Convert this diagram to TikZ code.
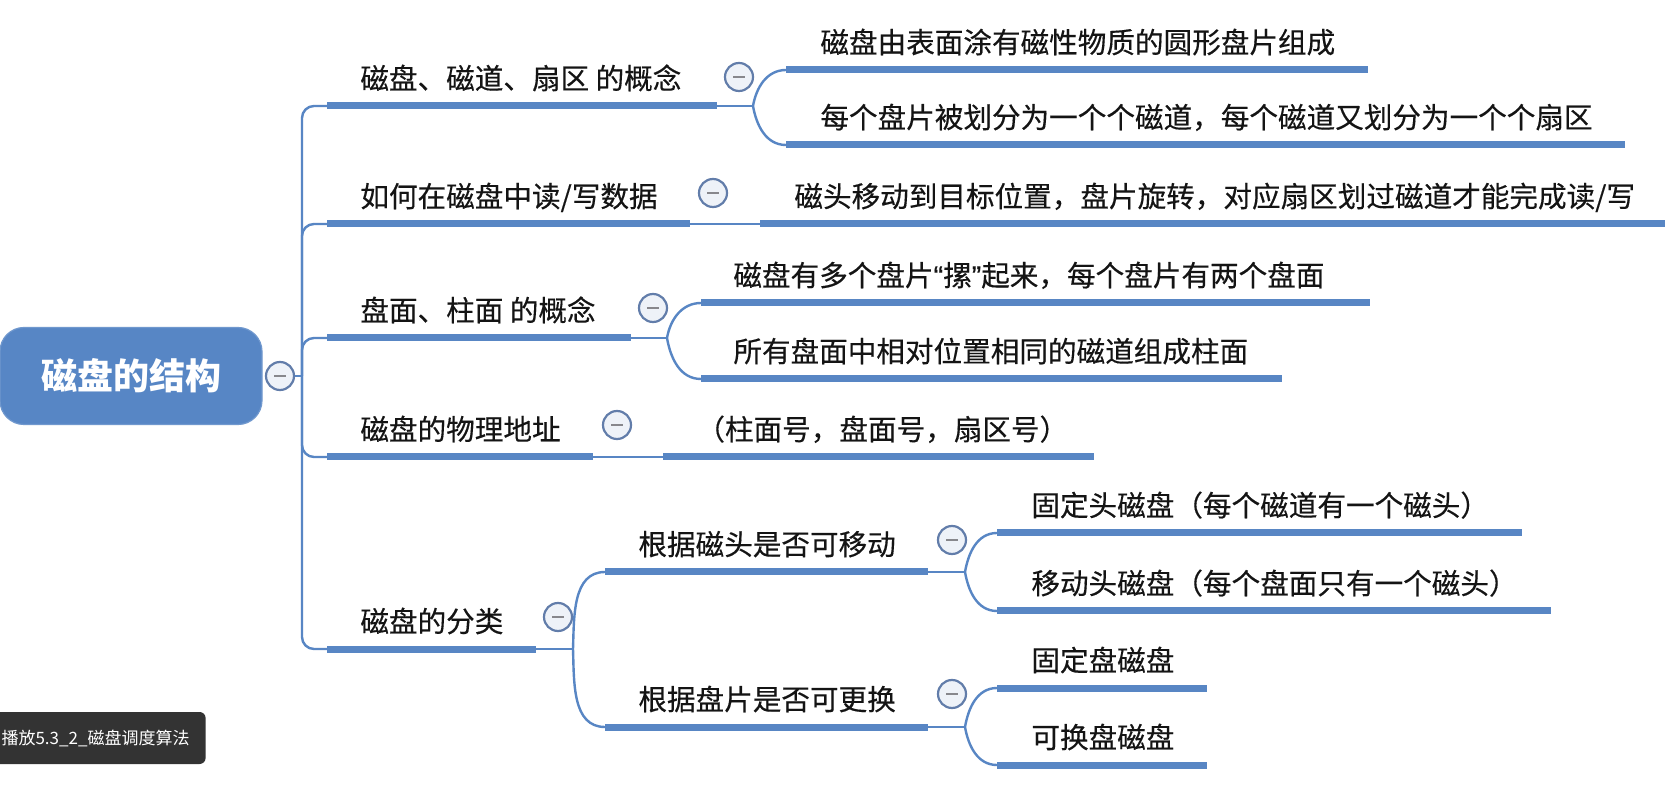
\documentclass[tikz,border=0pt]{standalone}
\usepackage{fontspec}
\newfontfamily\cjk[FakeBold=0.35]{Noto Sans CJK SC}
\newfontfamily\cjkroot{Noto Sans CJK SC}
\newfontfamily\latinq[FakeBold=0.35]{Liberation Sans}
\definecolor{lineblue}{RGB}{88,134,196}
\definecolor{rootblue}{RGB}{87,134,197}
\definecolor{circedge}{RGB}{98,125,170}
\definecolor{circfill}{RGB}{238,242,248}
\definecolor{minusgray}{RGB}{135,135,140}
\definecolor{ovbg}{RGB}{51,51,51}
\definecolor{txt}{RGB}{20,20,20}
\tikzset{
  ul/.style={draw=lineblue, line width=3.5pt},
  conn/.style={draw=lineblue, line width=1.2pt},
  lbl/.style={anchor=base west, inner sep=0pt, text=txt,
    font=\cjk\fontsize{14.3pt}{17pt}\selectfont},
  rootbox/.style={fill=rootblue, draw=rootblue!85!white, line width=0.6pt,
    rounded corners=12pt, minimum width=131pt, minimum height=48.5pt,
    text=white, font=\cjkroot\bfseries\fontsize{18pt}{21pt}\selectfont},
  fold/.style={circle, draw=circedge, line width=1.1pt, fill=circfill,
    minimum size=14pt, inner sep=0pt,
    path picture={\draw[minusgray, line width=1pt]
      ([xshift=-2.8pt]path picture bounding box.center) --
      ([xshift=2.8pt]path picture bounding box.center);}},
  overlay/.style={fill=ovbg, rounded corners=3pt, text=white,
    minimum height=26pt, inner xsep=8pt, anchor=east,
    font=\cjkroot\fontsize{8.5pt}{10pt}\selectfont},
}
\begin{document}
\begin{tikzpicture}[x=0.5pt, y=-0.5pt]
\useasboundingbox[fill=white] (0,0) rectangle (1665,790);

% root
\node[rootbox] (root) at (131,376) {磁盘的结构};
\node[fold] (rf) at (280,376) {};
\coordinate (tj) at (302,376);
\draw[conn] (rf.east) -- (tj);

% level-1 underline ends
\coordinate (a1) at (327,106); \coordinate (b1) at (717,106);
\coordinate (a2) at (327,224); \coordinate (b2) at (690,224);
\coordinate (a3) at (327,338); \coordinate (b3) at (631,338);
\coordinate (a4) at (327,457); \coordinate (b4) at (593,457);
\coordinate (a5) at (327,649); \coordinate (b5) at (536,649);

\foreach \i in {1,...,5}{
  \draw[conn, rounded corners=6pt] (tj) |- (a\i);
  \draw[ul] (a\i) -- (b\i);
}

\node[lbl] (t1) at (360,89) {磁盘、磁道、扇区 的概念};
\node[lbl] (t2) at (360,207) {如何在磁盘中读/写数据};
\node[lbl] (t3) at (360,321) {盘面、柱面 的概念};
\node[lbl] (t4) at (360,440) {磁盘的物理地址};
\node[lbl] (t5) at (360,632) {磁盘的分类};

\node[fold] (f1) at (739,77) {};
\node[fold] (f2) at (713,193) {};
\node[fold] (f3) at (653,308) {};
\node[fold] (f4) at (617,425) {};
\node[fold] (f5) at (558,617) {};

% split points
\coordinate (s1) at (753,106);
\coordinate (s3) at (667,338);
\coordinate (s5) at (573,649);

% branch 1 children
\coordinate (c11a) at (786,70);  \coordinate (c11b) at (1368,70);
\coordinate (c12a) at (786,145); \coordinate (c12b) at (1625,145);
\draw[conn] (b1) -- (s1);
\draw[conn] (s1) to[out=80,in=180] (c11a);
\draw[conn] (s1) to[out=-80,in=180] (c12a);
\draw[ul] (c11a) -- (c11b);
\draw[ul] (c12a) -- (c12b);
\node[lbl] (x11) at (820,53) {磁盘由表面涂有磁性物质的圆形盘片组成};
\node[lbl] (x12) at (820,128) {每个盘片被划分为一个个磁道，每个磁道又划分为一个个扇区};

% branch 2 child
\coordinate (c21a) at (760,224); \coordinate (c21b) at (1665,224);
\draw[conn] (b2) -- (c21a);
\draw[ul] (c21a) -- (c21b);
\node[lbl] (x21) at (794,207) {磁头移动到目标位置，盘片旋转，对应扇区划过磁道才能完成读/写};

% branch 3 children
\coordinate (c31a) at (701,303); \coordinate (c31b) at (1370,303);
\coordinate (c32a) at (701,379); \coordinate (c32b) at (1282,379);
\draw[conn] (b3) -- (s3);
\draw[conn] (s3) to[out=80,in=180] (c31a);
\draw[conn] (s3) to[out=-80,in=180] (c32a);
\draw[ul] (c31a) -- (c31b);
\draw[ul] (c32a) -- (c32b);
\node[lbl] (x31) at (733,286) {磁盘有多个盘片{\latinq “}摞{\latinq ”}起来，每个盘片有两个盘面};
\node[lbl] (x32) at (733,362) {所有盘面中相对位置相同的磁道组成柱面};

% branch 4 child
\coordinate (c41a) at (663,457); \coordinate (c41b) at (1094,457);
\draw[conn] (b4) -- (c41a);
\draw[ul] (c41a) -- (c41b);
\node[lbl] (x41) at (696,440) {（柱面号，盘面号，扇区号）};

% branch 5 sub-branches
\coordinate (saa) at (605,572); \coordinate (sab) at (928,572);
\coordinate (sba) at (605,727); \coordinate (sbb) at (928,727);
\draw[conn] (b5) -- (s5);
\draw[conn] (s5) to[out=88,in=180] (saa);
\draw[conn] (s5) to[out=-88,in=180] (sba);
\draw[ul] (saa) -- (sab);
\draw[ul] (sba) -- (sbb);
\node[lbl] (ya) at (638,555) {根据磁头是否可移动};
\node[lbl] (yb) at (638,710) {根据盘片是否可更换};
\node[fold] (fa) at (952,540) {};
\node[fold] (fb) at (952,694) {};
\coordinate (ssa) at (965,572);
\coordinate (ssb) at (965,727);

% sub a children
\coordinate (ca1a) at (997,533); \coordinate (ca1b) at (1522,533);
\coordinate (ca2a) at (997,611); \coordinate (ca2b) at (1551,611);
\draw[conn] (sab) -- (ssa);
\draw[conn] (ssa) to[out=80,in=180] (ca1a);
\draw[conn] (ssa) to[out=-80,in=180] (ca2a);
\draw[ul] (ca1a) -- (ca1b);
\draw[ul] (ca2a) -- (ca2b);
\node[lbl] (za1) at (1031,516) {固定头磁盘（每个磁道有一个磁头）};
\node[lbl] (za2) at (1031,594) {移动头磁盘（每个盘面只有一个磁头）};

% sub b children
\coordinate (cb1a) at (997,688); \coordinate (cb1b) at (1207,688);
\coordinate (cb2a) at (997,765); \coordinate (cb2b) at (1207,765);
\draw[conn] (sbb) -- (ssb);
\draw[conn] (ssb) to[out=80,in=180] (cb1a);
\draw[conn] (ssb) to[out=-80,in=180] (cb2a);
\draw[ul] (cb1a) -- (cb1b);
\draw[ul] (cb2a) -- (cb2b);
\node[lbl] (zb1) at (1031,671) {固定盘磁盘};
\node[lbl] (zb2) at (1031,748) {可换盘磁盘};

% video overlay label
\node[overlay] (ov) at (206,738) {播放5.3\_2\_磁盘调度算法};
\end{tikzpicture}
\end{document}
